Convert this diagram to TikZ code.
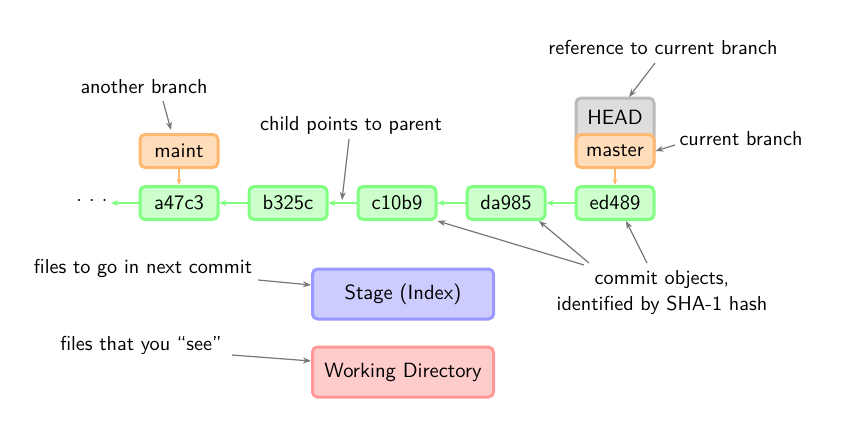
\documentclass[tikz,border=0pt]{standalone}
\usetikzlibrary{arrows.meta}
\definecolor{cgfill}{HTML}{CCFFCC}
\definecolor{cgdraw}{HTML}{80FF80}
\definecolor{cofill}{HTML}{FFDDBB}
\definecolor{codraw}{HTML}{FFB870}
\definecolor{cyfill}{HTML}{DDDDDD}
\definecolor{cydraw}{HTML}{BBBBBB}
\definecolor{cbfill}{HTML}{CCCCFF}
\definecolor{cbdraw}{HTML}{9999FF}
\definecolor{crfill}{HTML}{FFCCCC}
\definecolor{crdraw}{HTML}{FF9999}
\definecolor{cline}{HTML}{777777}
\tikzset{
  basebox/.style={rounded corners=2.5pt, line width=1.5pt, inner sep=0pt, font=\sffamily\fontsize{10.3}{12}\selectfont},
  commit/.style={basebox, fill=cgfill, draw=cgdraw, minimum width=39pt, minimum height=16.5pt},
  branch/.style={basebox, fill=cofill, draw=codraw, minimum width=39pt, minimum height=16.5pt},
  headbox/.style={basebox, fill=cyfill, draw=cydraw, minimum width=39pt, minimum height=30pt},
  stagebox/.style={basebox, fill=cbfill, draw=cbdraw, minimum width=90.5pt, minimum height=25pt},
  workbox/.style={basebox, fill=crfill, draw=crdraw, minimum width=90.5pt, minimum height=25pt},
  lbl/.style={font=\sffamily\fontsize{10.1}{12}\selectfont, inner sep=0pt, align=center},
  parentarrow/.style={draw=cgdraw, line width=1pt, -{Stealth[length=3.5pt,width=3pt]}},
  brancharrow/.style={draw=codraw, line width=0.6pt, -{Stealth[length=3pt,width=2.5pt]}},
  note/.style={draw=cline, line width=0.6pt, -{Stealth[length=4pt,width=3pt]}}
}
\begin{document}
\begin{tikzpicture}[x=0.5pt,y=-0.5pt]
\useasboundingbox (0,0) rectangle (862,439);
% HEAD behind master
\node[headbox] (head) at (615,128) {};
\node[lbl, font=\sffamily\fontsize{10.3}{12}\selectfont] (headtxt) at (615,117) {HEAD};
\node[branch] (master) at (615,151) {master};
\node[branch] (maint) at (179,151) {maint};
\node[commit] (a47c3) at (179,203) {a47c3};
\node[commit] (b325c) at (288,203) {b325c};
\node[commit] (c10b9) at (397,203) {c10b9};
\node[commit] (da985) at (506,203) {da985};
\node[commit] (ed489) at (615,203) {ed489};
\node[lbl] (dots) at (92,201) {$\cdot$\hspace{3.6pt}$\cdot$\hspace{3.6pt}$\cdot$};
\coordinate (dotsend) at (111,203);
\node[stagebox] (stage) at (403,294) {Stage (Index)};
\node[workbox] (work) at (403,372) {Working Directory};
% parent arrows
\draw[parentarrow] (ed489.west) -- (da985.east);
\draw[parentarrow] (da985.west) -- (c10b9.east);
\draw[parentarrow] (c10b9.west) -- (b325c.east);
\draw[parentarrow] (b325c.west) -- (a47c3.east);
\draw[parentarrow] (a47c3.west) -- (dotsend);
\draw[brancharrow] (maint.south) -- (a47c3.north);
\draw[brancharrow] (master.south) -- (ed489.north);
% labels
\node[lbl] (lanother) at (144,87) {another branch};
\coordinate (tanother) at (171,130);
\draw[note] (163,101) -- (tanother);
\node[lbl] (lchild) at (351,125) {child points to parent};
\coordinate (tchild) at (342,200);
\draw[note] (349,139) -- (tchild);
\node[lbl] (lref) at (663,47) {reference to current branch};
\coordinate (tref) at (629,97);
\draw[note] (655,63) -- (tref);
\node[lbl] (lcur) at (741,139) {current branch};
\draw[note] (675,145) -- (master.east);
\node[lbl] (lcommit) at (662,293) {commit objects,\\[1pt]identified by SHA-1 hash};
\draw[note] (584,265) -- (c10b9.south east);
\draw[note] (589,263) -- (539,221);
\draw[note] (647,263) -- (626,221);
\node[lbl] (lstage) at (143,268) {files to go in next commit};
\draw[note] (258,280) -- (stage.west |- 0,285);
\node[lbl] (lwork) at (141,345) {files that you ``see''};
\draw[note] (232,355) -- (work.west |- 0,361);
\end{tikzpicture}
\end{document}
